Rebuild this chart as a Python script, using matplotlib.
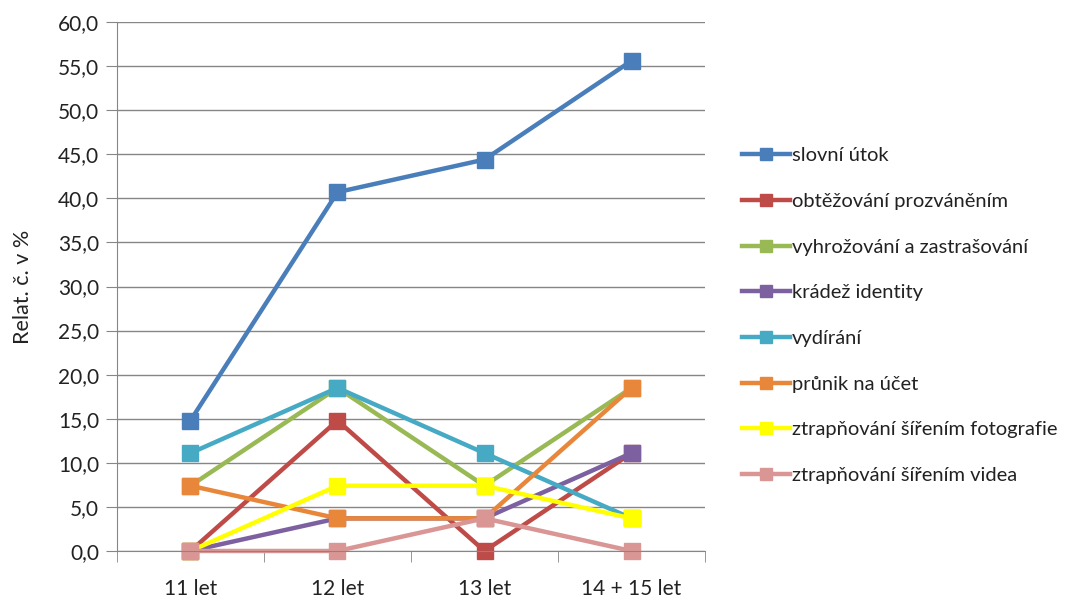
import matplotlib.pyplot as plt
from matplotlib.ticker import FuncFormatter, FixedLocator
import numpy as np

plt.rcParams['font.family'] = ['Lato', 'DejaVu Sans']

categories = ["11 let", "12 let", "13 let", "14 + 15 let"]

series_names = [
    "slovní útok",
    "obtěžování prozváněním",
    "vyhrožování a zastrašování",
    "krádež identity",
    "vydírání",
    "průnik na účet",
    "ztrapňování šířením fotografie",
    "ztrapňování šířením videa",
]
slovni_utok = [14.8, 40.7, 44.4, 55.6]
obtezovani = [0.0, 14.8, 0.0, 11.1]
vyhrozovani = [7.4, 18.5, 7.4, 18.5]
kradez = [0.0, 3.7, 3.7, 11.1]
vydirani = [11.1, 18.5, 11.1, 3.7]
prunik = [7.4, 3.7, 3.7, 18.5]
foto = [0.0, 7.4, 7.4, 3.7]
video = [0.0, 0.0, 3.7, 0.0]
all_values = [slovni_utok, obtezovani, vyhrozovani, kradez, vydirani, prunik, foto, video]

colors = ["#4A7EBB", "#BE4B48", "#98B954", "#7D60A0", "#46AAC5", "#E8873A", "#FFFF00", "#D99694"]

fig = plt.figure(figsize=(10.86, 6), dpi=100)
ax = fig.add_axes([0.1077, 0.0817, 0.5415, 0.8816])

x = np.arange(len(categories))
for name, vals, col in zip(series_names, all_values, colors):
    ax.plot(x, vals, color=col, linewidth=3.2, marker="s", markersize=11,
            markeredgecolor=col, label=name, clip_on=False)

ax.set_xlim(-0.5, 3.5)
ax.set_ylim(0, 60)
ax.set_yticks(np.arange(0, 61, 5))
ax.yaxis.set_major_formatter(FuncFormatter(lambda v, p: f"{v:.1f}".replace(".", ",")))
ax.grid(axis="y", color="#868686", linewidth=1)
ax.set_axisbelow(True)

ax.set_xticks(x)
ax.set_xticklabels(categories)
ax.xaxis.set_minor_locator(FixedLocator([-0.5, 0.5, 1.5, 2.5, 3.5]))
ax.tick_params(axis="x", which="major", length=0, pad=20, labelsize=15, colors="#000000")
ax.tick_params(axis="x", which="minor", length=8, color="#868686", direction="out")
ax.tick_params(axis="y", length=8, color="#868686", labelsize=15, pad=5)
for lab in ax.get_xticklabels() + ax.get_yticklabels():
    lab.set_color("#222222")

for side in ["top", "right"]:
    ax.spines[side].set_visible(False)
ax.spines["left"].set_color("#868686")
ax.spines["bottom"].set_color("#868686")

ax.set_ylabel("Relat. č. v %", fontsize=15.5, color="#222222")
ax.yaxis.set_label_coords(-0.143, 0.5)

leg = fig.legend(loc="upper left", bbox_to_anchor=(0.667, 0.785), frameon=False,
                 fontsize=14.5, labelspacing=1.42, handlelength=2.35, handletextpad=0.1,
                 markerscale=0.85)
for t in leg.get_texts():
    t.set_color("#222222")

fig.savefig("out.png", dpi=100)
